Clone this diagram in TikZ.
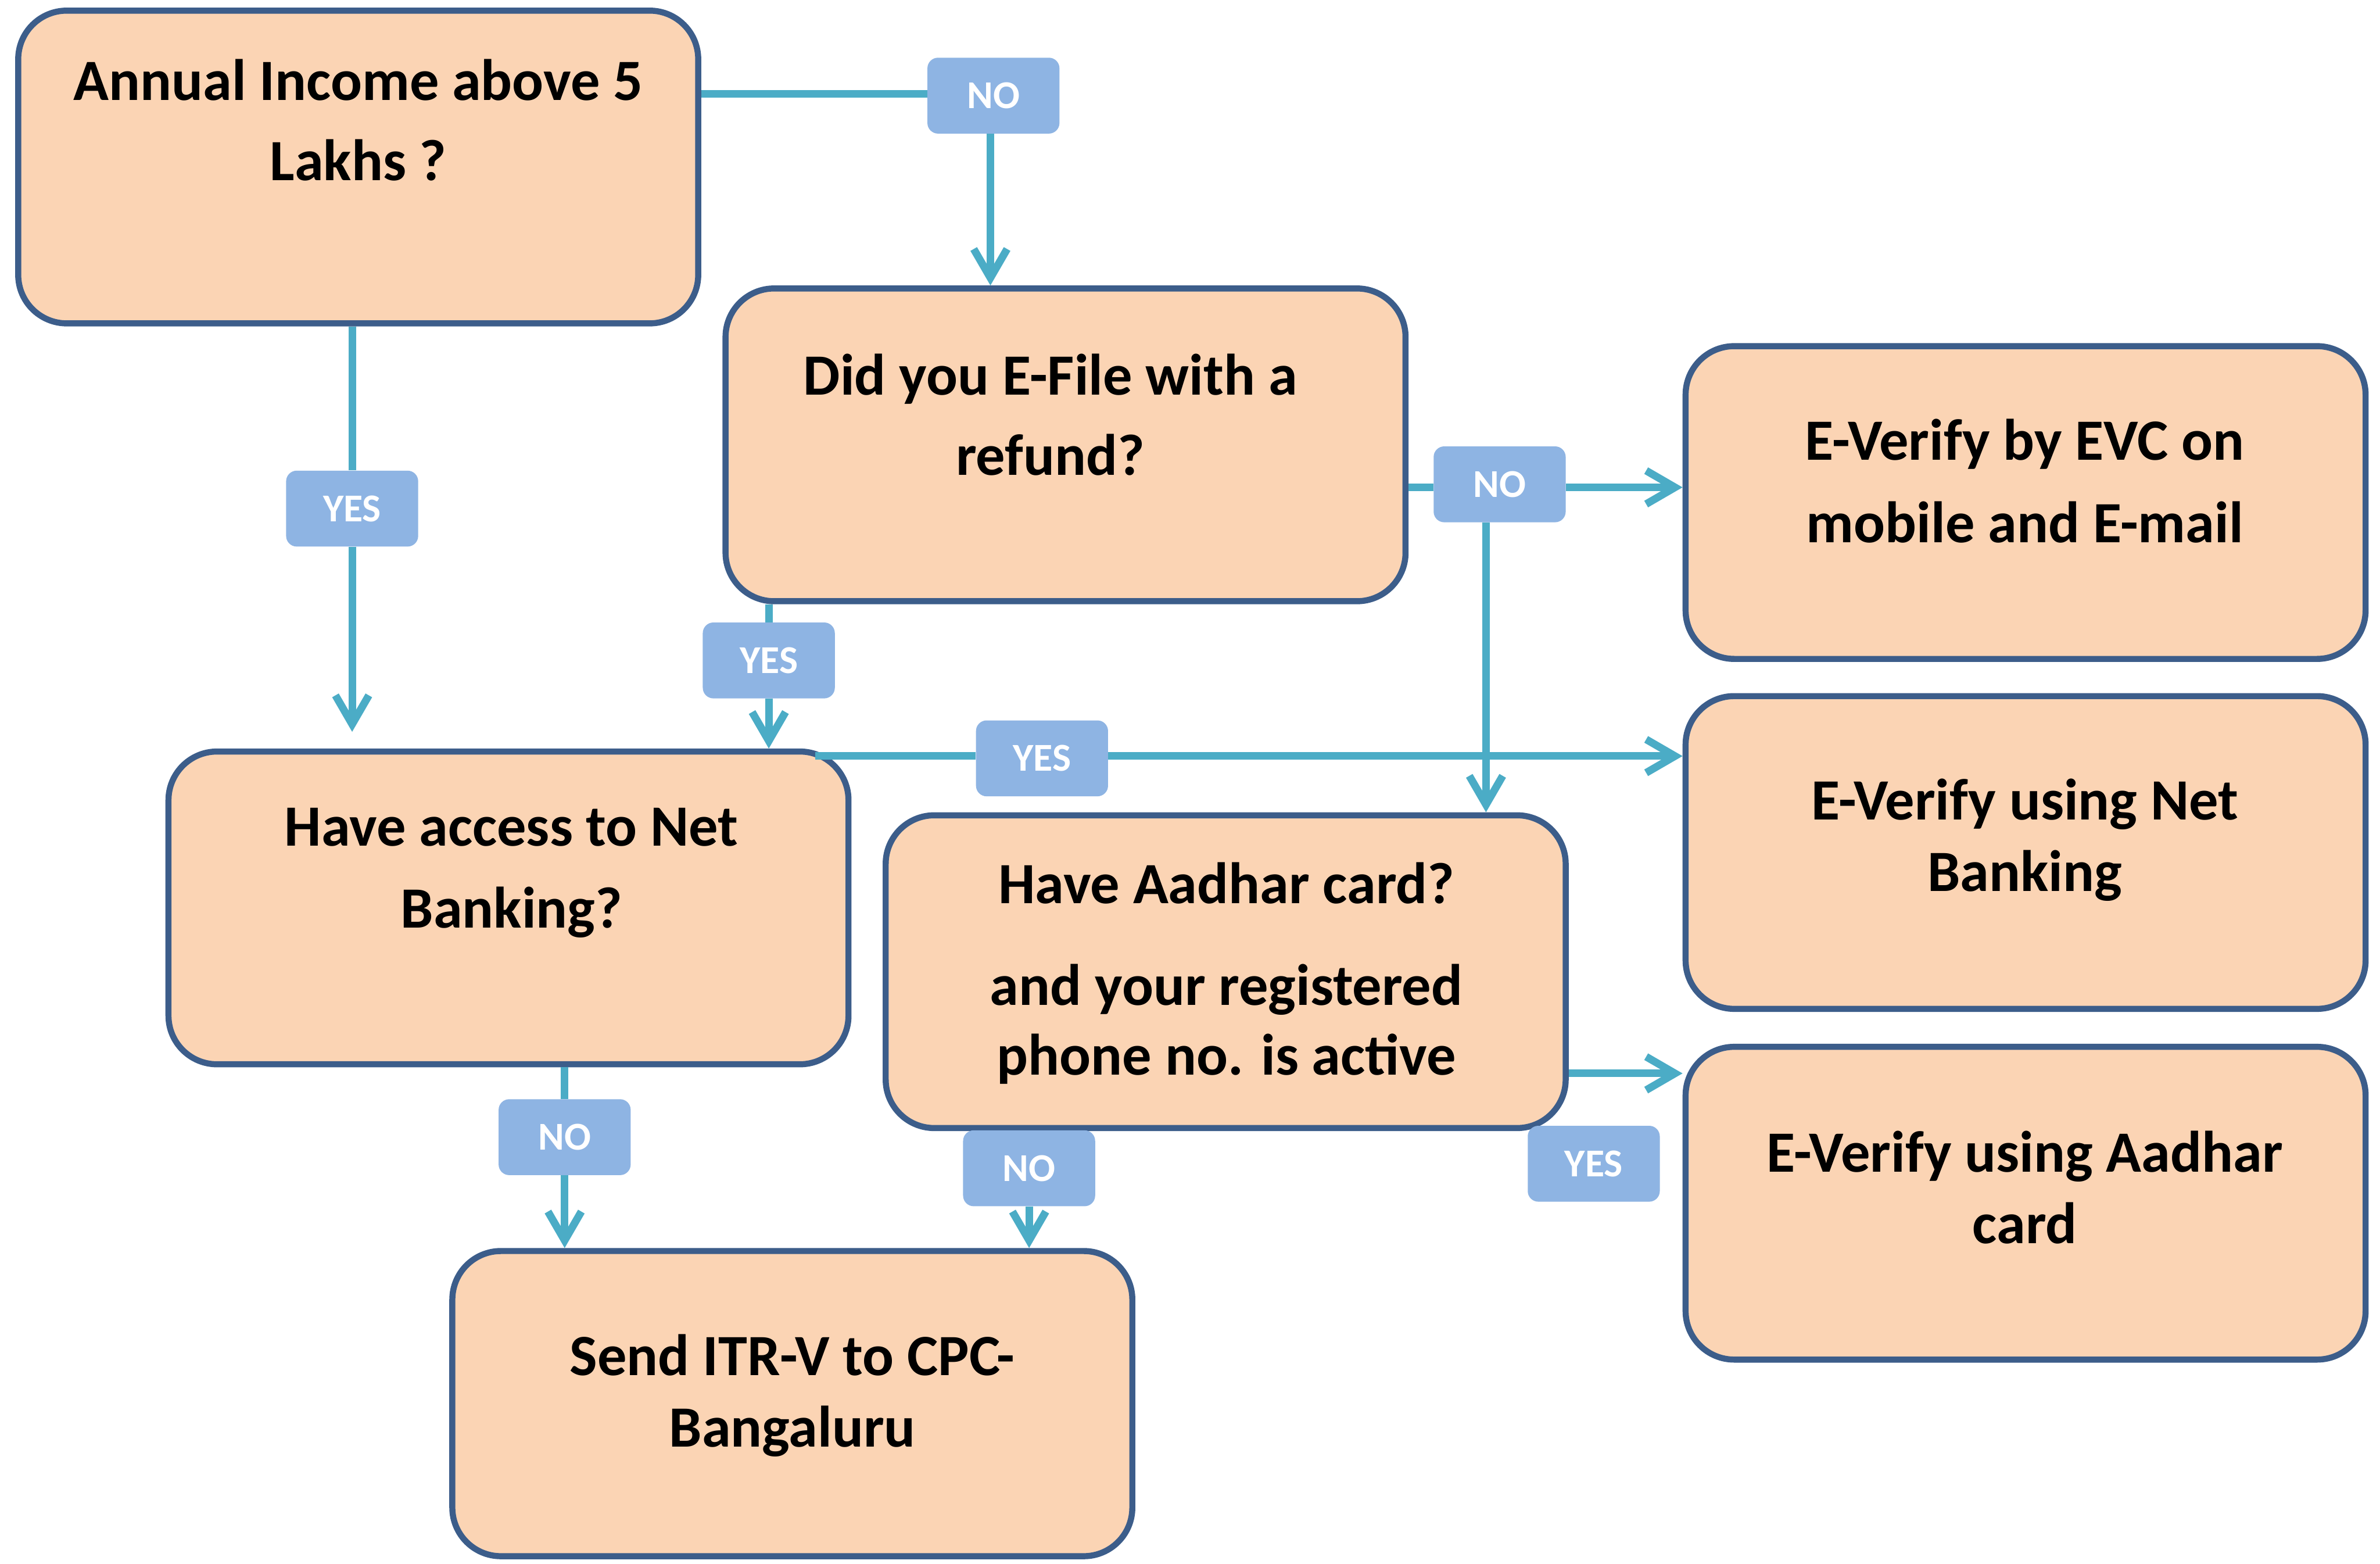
\documentclass[tikz,border=0pt]{standalone}
\usepackage{fontspec}
\setmainfont{Carlito}
\usetikzlibrary{arrows.meta}
\definecolor{boxfill}{HTML}{FBD4B4}
\definecolor{boxline}{HTML}{3C5D8A}
\definecolor{conncol}{HTML}{4BACC6}
\definecolor{tagfill}{HTML}{8EB4E3}
\begin{document}
\begin{tikzpicture}[x=1pt,y=-1pt,
  flowbox/.style={draw=boxline, line width=4pt, fill=boxfill, rounded corners=32pt,
    minimum width=448pt, minimum height=206pt, inner sep=0pt},
  boxtext/.style={anchor=base, inner sep=0pt, font=\fontsize{38.5}{46}\selectfont\bfseries},
  tag/.style={fill=tagfill, rounded corners=7pt, minimum width=87pt, minimum height=50pt,
    inner sep=0pt, text=white, font=\fontsize{26}{30}\selectfont\bfseries},
  conn/.style={draw=conncol, line width=5pt},
  arr/.style={conn, -{Straight Barb[length=19pt,width=22pt]}}]
\useasboundingbox (0,0) rectangle (1568,1030);
\fill[white] (0,0) rectangle (1568,1030);

% boxes
\node[flowbox] (b1) at (236,110) {};
\node[flowbox] (b2) at (702,293) {};
\node[flowbox] (b3) at (1334.5,331) {};
\node[flowbox] (b4) at (1334.5,561.5) {};
\node[flowbox] (b5) at (1334.5,792.5) {};
\node[flowbox] (b6) at (335,598) {};
\node[flowbox] (b7) at (807.5,640) {};
\node[flowbox, minimum height=201pt] (b8) at (522,924.5) {};

% texts
\node[boxtext] (t1a) at (236,66) {Annual Income above 5};
\node[boxtext] (t1b) at (236,119) {Lakhs ?};
\node[boxtext] (t2a) at (692,260) {Did you E-File with a};
\node[boxtext] (t2b) at (692,313) {refund?};
\node[boxtext] (t3a) at (1334,303) {E-Verify by EVC on};
\node[boxtext] (t3b) at (1334,357.5) {mobile and E-mail};
\node[boxtext] (t4a) at (1334,540) {E-Verify using Net};
\node[boxtext] (t4b) at (1334,587) {Banking};
\node[boxtext] (t5a) at (1334,772) {E-Verify using Aadhar};
\node[boxtext] (t5b) at (1334,819) {card};
\node[boxtext] (t6a) at (337,557) {Have access to Net};
\node[boxtext] (t6b) at (337,611) {Banking?};
\node[boxtext] (t7a) at (808,595) {Have Aadhar card?};
\node[boxtext] (t7b) at (808,662) {and your registered};
\node[boxtext] (t7c) at (808,708) {phone no. is active};
\node[boxtext] (t8a) at (522,906) {Send ITR-V to CPC-};
\node[boxtext] (t8b) at (522,953) {Bangaluru};

% tags
\node[tag] (l1) at (654.5,63) {NO};
\node[tag] (l2) at (232,335) {YES};
\node[tag] (l3) at (506.5,435) {YES};
\node[tag] (l4) at (686.5,499.5) {YES};
\node[tag] (l5) at (988,319) {NO};
\node[tag] (l6) at (372,749) {NO};
\node[tag] (l7) at (678,769.5) {NO};
\node[tag] (l8) at (1050,766.5) {YES};

\coordinate (e2) at (232,482);
\coordinate (c8) at (0,707);
\coordinate (c4) at (0,498);
\coordinate (c5) at (0,321);

% connectors
\draw[conn] (b1.east |- 0,62) -- (l1.west |- 0,62);
\draw[arr] ([xshift=-2pt]l1.south) -- ([xshift=-2pt]l1.south |- b2.north);
\draw[conn] (l2 |- b1.south) -- (l2.north);
\draw[arr] (l2.south) -- (e2);
\draw[conn] (l3 |- b2.south) -- (l3.north);
\draw[arr] (l3.south) -- (l3.south |- b6.north);
\draw[conn] ([xshift=-24pt]b6.north east |- c4) -- (l4.west |- c4);
\draw[arr] (l4.east |- c4) -- (b4.west |- c4);
\draw[conn] (b2.east |- c5) -- (l5.west |- c5);
\draw[arr] (l5.east |- c5) -- (b3.west |- c5);
\draw[arr] ([xshift=-9pt]l5.south) -- ([xshift=-9pt]l5.south |- b7.north);
\draw[conn] (l6 |- b6.south) -- (l6.north);
\draw[arr] (l6.south) -- (l6.south |- b8.north);
\draw[arr] (l7.south) -- (l7.south |- b8.north);
\draw[arr] (b7.east |- c8) -- (b5.west |- c8);
\end{tikzpicture}
\end{document}
